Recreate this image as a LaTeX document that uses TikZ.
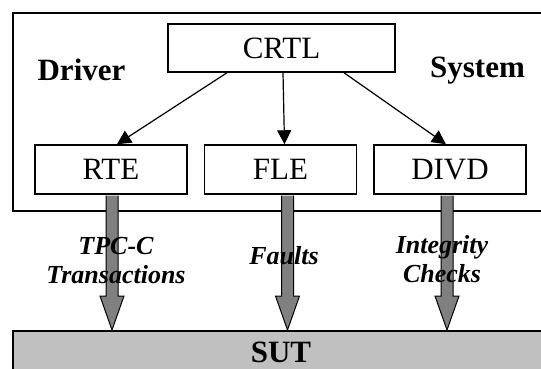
\documentclass[tikz,border=0pt]{standalone}
\usepackage{fontspec}
\setmainfont{Liberation Serif}
\usetikzlibrary{positioning,chains,calc,arrows.meta}
\definecolor{sutgray}{HTML}{C0C0C0}
\definecolor{flowgray}{HTML}{808080}

\begin{document}
\begin{tikzpicture}[
x=1pt,y=1pt,
box/.style={draw,line width=1.5pt,minimum width=152pt,minimum height=49pt,inner sep=0pt,font=\fontsize{31}{36}\selectfont},
link/.style={line width=1.2pt,-{Triangle[length=14pt,width=14pt]}},
flow/.style={draw,line width=1pt,fill=flowgray},
title/.style={font=\fontsize{31}{36}\selectfont\bfseries},
tag/.style={font=\fontsize{26}{29}\selectfont\bfseries\itshape,align=center},
]
\useasboundingbox (0,0) rectangle (541,-369);
\clip (0,0) rectangle (541,-369);

% driver system frame and SUT
\node[draw,line width=1.6pt,anchor=north west,minimum width=600pt,minimum height=198pt] (frame) at (12,-12) {};
\node[draw,line width=1.6pt,fill=sutgray,anchor=north west,minimum width=600pt,minimum height=80pt] (sut) at (12,-330) {};
\node[title] (sutlbl) at (281,-352.5) {SUT};
\node[title] (drv) at (81.5,-70) {Driver};
\node[title] (sys) at (477.5,-71) {System};

\node[box,minimum width=227pt,minimum height=48pt] (crtl) at (281.5,-48) {CRTL};

\begin{scope}[start chain=going right,node distance=16pt]
\node[box,on chain] (rte) at (111,-169.5) {RTE};
\node[box,on chain] (fle) {FLE};
\node[box,on chain] (divd) {DIVD};
\end{scope}

\draw[link] ([xshift=-54.5pt]crtl.south) -- ([xshift=6pt]rte.north);
\draw[link] ([xshift=1.5pt]crtl.south) -- ([xshift=4pt]fle.north);
\draw[link] ([xshift=62.5pt]crtl.south) -- ([xshift=-4pt]divd.north);

% wide arrows down to the SUT
\foreach \src/\dx in {rte/1,fle/7,divd/-3}{
  \coordinate (tip) at ($(\src.south |- sut.north)+(\dx,0)$);
  \draw[flow] ($(\src.south)+(\dx-6,-0.75)$) -- ($(tip)+(-6,34)$) -- ($(tip)+(-12,34)$) -- (tip)
    -- ($(tip)+(12,34)$) -- ($(tip)+(6,34)$) -- ($(\src.south)+(\dx+6,-0.75)$);
}

\node[tag] (tpcc) at (116,-261) {TPC-C\\Transactions};
\node[tag] (faults) at (284,-256) {Faults};
\node[tag] (integ) at (442,-259) {Integrity\\Checks};

\end{tikzpicture}
\end{document}
